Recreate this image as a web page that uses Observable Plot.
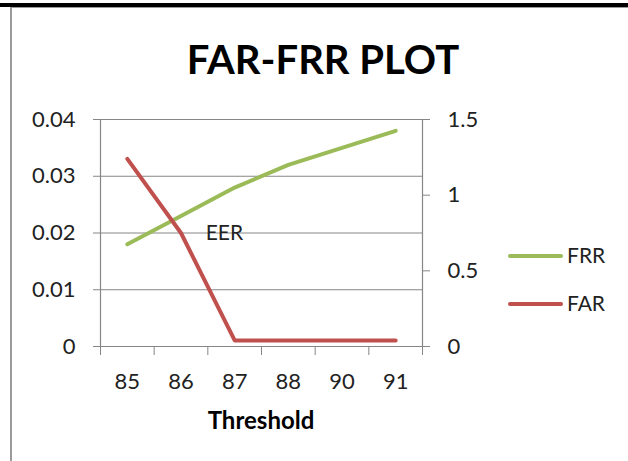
<!DOCTYPE html>
<html>
<head>
<meta charset="utf-8">
<script src="https://cdn.jsdelivr.net/npm/d3@7"></script>
<script src="https://cdn.jsdelivr.net/npm/@observablehq/plot@0.6"></script>
<style>
  html, body { margin: 0; padding: 0; background: #fff; }
  #wrap { position: relative; width: 628px; height: 461px; overflow: hidden; background: #fff; font-family: Lato, "Open Sans", sans-serif; }
  .abs { position: absolute; }
  #chart { position: absolute; left: 0; top: 100px; }
</style>
</head>
<body>
<div id="wrap">
  <div class="abs" style="left:0;top:3px;width:628px;height:3.5px;background:#000;"></div>
  <div class="abs" style="left:10px;top:6.5px;width:618px;height:1.5px;background:#9a9a9a;"></div>
  <div class="abs" style="left:10px;top:6.5px;width:2px;height:455px;background:#9a9a9a;"></div>
  <div id="title" class="abs" style="left:9px;top:38.5px;width:628px;text-align:center;font-weight:bold;font-size:40px;line-height:40px;color:#000;"></div>
  <div id="xlabel" class="abs" style="left:100px;top:407.7px;width:322px;text-align:center;font-weight:bold;font-size:24px;line-height:24px;color:#000;"></div>
  <div id="legend"></div>
  <div id="chart"></div>
</div>
<script>
const titleText = "FAR-FRR PLOT";
const xTitle = "Threshold";
const categories = ["85", "86", "87", "88", "90", "91"];
const frr = [0.018, 0.023, 0.028, 0.032, 0.035, 0.038];   // left axis
const far = [1.24, 0.75, 0.04, 0.04, 0.04, 0.04];          // right axis
const leftTicks = [0, 0.01, 0.02, 0.03, 0.04];
const rightTicks = [0, 0.5, 1, 1.5];
const leftMax = 0.04, rightMax = 1.5;
const seriesNames = ["FRR", "FAR"];
const seriesColors = ["#9BBB59", "#C0504D"];
const annotation = [{label: "EER", x: 1.96, y: 0.02}];

document.getElementById("title").textContent = titleText;
document.getElementById("xlabel").textContent = xTitle;

const toLeft = v => v * leftMax / rightMax;
const rows = [];
categories.forEach((c, i) => {
  rows.push({series: "FRR", i: i + 0.5, y: frr[i]});
  rows.push({series: "FAR", i: i + 0.5, y: toLeft(far[i])});
});

const gridColor = "#868686";
const plot = Plot.plot({
  width: 628,
  height: 361,
  marginTop: 19,
  marginBottom: 115,
  marginLeft: 100,
  marginRight: 206,
  style: {fontFamily: "Lato, 'Open Sans', sans-serif", fontSize: "22px", color: "#222", background: "transparent"},
  x: {domain: [0, categories.length], axis: null},
  y: {domain: [0, leftMax], axis: null},
  marks: [
    Plot.gridY(leftTicks.filter(d => d > 0), {stroke: gridColor, strokeOpacity: 1, strokeWidth: 1}),
    Plot.ruleX([0, categories.length], {stroke: gridColor, strokeWidth: 1.2}),
    Plot.ruleY([0], {stroke: gridColor, strokeWidth: 1.2}),
    Plot.axisY(leftTicks, {anchor: "left", tickSize: 7, tickPadding: 18, stroke: gridColor, fill: "#222",
      tickFormat: d => d === 0 ? "0" : d.toFixed(2), label: null}),
    Plot.axisY(rightTicks.map(toLeft), {anchor: "right", tickSize: 7, tickPadding: 18, stroke: gridColor, fill: "#222",
      tickFormat: d => String(+(d * rightMax / leftMax).toFixed(2)), label: null}),
    Plot.axisX(d3.range(0, categories.length + 1), {anchor: "bottom", tickSize: 9, stroke: gridColor, tickFormat: () => "", label: null}),
    Plot.axisX(categories.map((c, i) => i + 0.5), {anchor: "bottom", tickSize: 0, tickPadding: 27, fill: "#222",
      tickFormat: d => categories[Math.floor(d)], label: null}),
    Plot.line(rows, {x: "i", y: "y", z: "series",
      stroke: d => seriesColors[seriesNames.indexOf(d.series)],
      strokeWidth: 4, strokeLinecap: "round", strokeLinejoin: "round"}),
    Plot.text(annotation, {x: "x", y: "y", text: "label", textAnchor: "start", fontSize: 21, fill: "#222"})
  ]
});
document.getElementById("chart").appendChild(plot);

// legend
const legend = document.getElementById("legend");
const legendY = [256, 304];
seriesNames.forEach((name, k) => {
  const line = document.createElement("div");
  line.className = "abs";
  line.style.cssText = `left:508px;top:${legendY[k] - 2}px;width:55px;height:4px;border-radius:2px;background:${seriesColors[k]};`;
  legend.appendChild(line);
  const lab = document.createElement("div");
  lab.className = "abs";
  lab.style.cssText = `left:567px;top:${legendY[k] + 7 - 18.6}px;font-size:21px;line-height:21px;color:#222;`;
  lab.textContent = name;
  legend.appendChild(lab);
});
</script>
</body>
</html>
